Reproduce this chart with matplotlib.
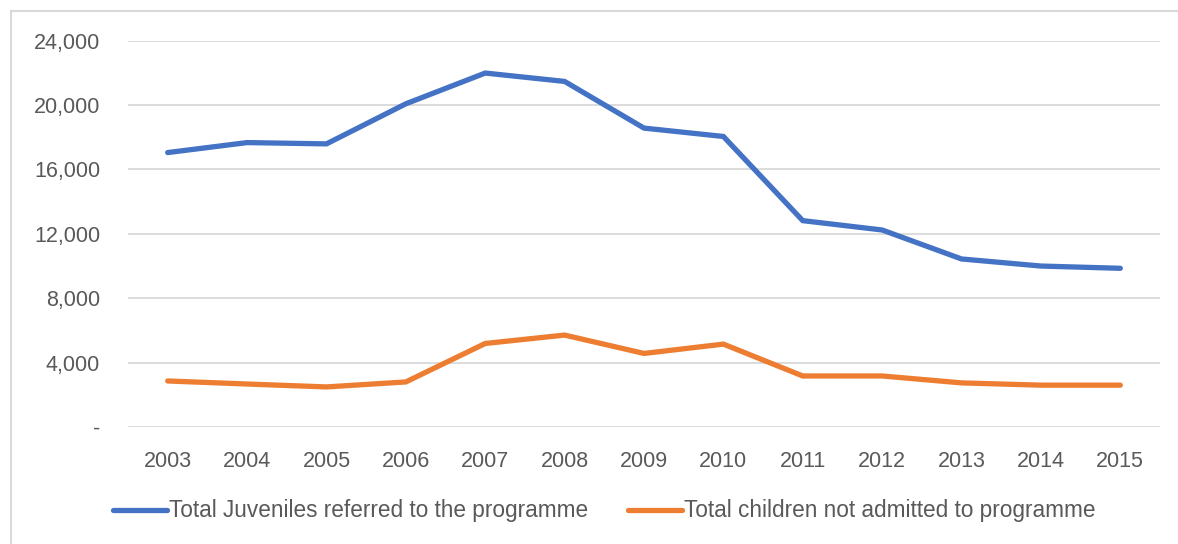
import matplotlib
matplotlib.use("Agg")
import matplotlib.pyplot as plt
from matplotlib.lines import Line2D
from matplotlib.ticker import FuncFormatter

# Programme referrals by year
years = ["2003", "2004", "2005", "2006", "2007", "2008", "2009",
         "2010", "2011", "2012", "2013", "2014", "2015"]
referred = [17050, 17670, 17590, 20080, 21990, 21470, 18570,
            18050, 12820, 12240, 10440, 10000, 9860]
not_admitted = [2860, 2670, 2490, 2800, 5190, 5710, 4570,
                5150, 3170, 3170, 2740, 2600, 2600]
series_labels = ["Total Juveniles referred to the programme",
                 "Total children not admitted to programme"]
y_ticks = [0, 4000, 8000, 12000, 16000, 20000, 24000]

BLUE = "#4472C4"
ORANGE = "#ED7D31"
GRID = "#D9D9D9"
TEXT = "#595959"

plt.rcParams["font.family"] = ["Liberation Sans", "DejaVu Sans"]

W, H = 1178, 544
fig = plt.figure(figsize=(W / 100, H / 100), dpi=100)

# plot area in pixel coords
left, right, top, bottom = 128, 1160, 40.7, 427
ax = fig.add_axes([left / W, 1 - bottom / H, (right - left) / W, (bottom - top) / H])

x = range(len(years))
ax.plot(x, referred, color=BLUE, lw=3.8, solid_capstyle="round",
        solid_joinstyle="miter", zorder=3)
ax.plot(x, not_admitted, color=ORANGE, lw=3.8, solid_capstyle="round",
        solid_joinstyle="miter", zorder=3)

ax.set_xlim(-0.5, len(years) - 0.5)
ax.set_ylim(0, 24000)
ax.set_xticks(list(x))
ax.set_xticklabels(years)
ax.set_yticks(y_ticks)
ax.yaxis.set_major_formatter(FuncFormatter(lambda v, _: "-" if v == 0 else f"{v:,.0f}"))
ax.tick_params(axis="both", length=0, labelsize=15.5, colors=TEXT)
ax.tick_params(axis="y", pad=20)
ax.tick_params(axis="x", pad=17)
ax.grid(axis="y", color=GRID, lw=1.3, zorder=0)
ax.set_axisbelow(True)
for s in ax.spines.values():
    s.set_visible(False)

handles = [Line2D([], [], color=BLUE, lw=3.8, solid_capstyle="round"),
           Line2D([], [], color=ORANGE, lw=3.8, solid_capstyle="round")]
leg = fig.legend(handles, series_labels, loc="center", ncol=2,
                 bbox_to_anchor=(604 / W, 1 - 511 / H), frameon=False,
                 fontsize=16.3, handlelength=2.4, handletextpad=0.08,
                 columnspacing=1.75)
for t in leg.get_texts():
    t.set_color(TEXT)

# chart area border (left and top edges)
fig.add_artist(Line2D([11 / W, 11 / W], [0, 1 - 11 / H], transform=fig.transFigure,
                      color=GRID, lw=1.5))
fig.add_artist(Line2D([11 / W, 1], [1 - 11 / H, 1 - 11 / H], transform=fig.transFigure,
                      color=GRID, lw=1.5))

fig.savefig("out.png", dpi=100)
